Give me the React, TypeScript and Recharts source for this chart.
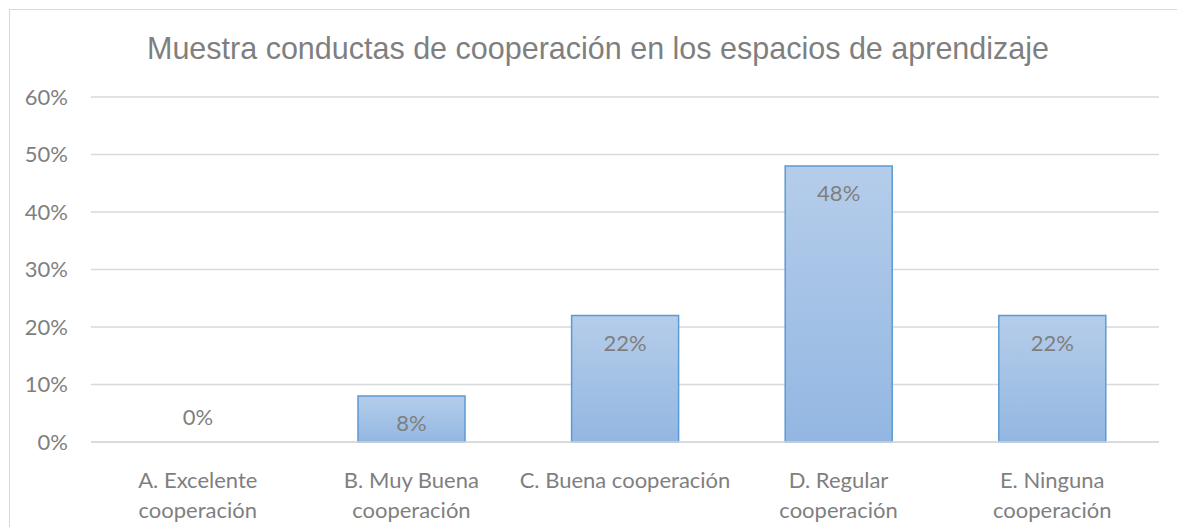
import React from "react";
import { BarChart, Bar, XAxis, YAxis, CartesianGrid } from "recharts";

const title = "Muestra conductas de cooperación en los espacios de aprendizaje";
const categories = [
  "A. Excelente cooperación",
  "B. Muy Buena cooperación",
  "C. Buena cooperación",
  "D. Regular cooperación",
  "E. Ninguna cooperación",
];
const categoryLines = [
  ["A. Excelente", "cooperación"],
  ["B. Muy Buena", "cooperación"],
  ["C. Buena cooperación"],
  ["D. Regular", "cooperación"],
  ["E. Ninguna", "cooperación"],
];
const values = [0, 8, 22, 48, 22];
const yTicks = [0, 10, 20, 30, 40, 50, 60];

const data = categories.map((c, i) => ({ name: c, value: values[i] }));

const TICK_FONT = "Lato, 'Liberation Sans', sans-serif";
const GRAY = "#7f7f7f";

const XTick = (props: any) => {
  const { x, y, index } = props;
  const lines = categoryLines[index] || [props.payload.value];
  return (
    <g>
      {lines.map((l: string, i: number) => (
        <text
          key={i}
          x={x}
          y={y + 38 + i * 30}
          textAnchor="middle"
          fill={GRAY}
          fontSize={22}
          fontFamily={TICK_FONT}
        >
          {l}
        </text>
      ))}
    </g>
  );
};

const BarShape = (props: any) => {
  const { x, y, width, height, value } = props;
  const v = Array.isArray(value) ? value[1] - value[0] : value;
  const cx = x + width / 2;
  const ty = v === 0 ? y - 17 : y + 35;
  return (
    <g>
      {height > 0 && (
        <rect x={x} y={y} width={width} height={height} fill="url(#barGrad)" stroke="#5b9bd5" strokeWidth={1.5} />
      )}
      <text x={cx} y={ty} textAnchor="middle" fill={GRAY} fontSize={22} fontFamily={TICK_FONT}>
        {v + "%"}
      </text>
    </g>
  );
};

export default function App() {
  return (
    <div style={{ position: "absolute", left: 0, top: 0, width: 1177, height: 527, overflow: "hidden", background: "#fff" }}>
      <div
        style={{
          position: "absolute",
          left: 9,
          top: 9,
          width: 2000,
          height: 1000,
          border: "1.5px solid #d9d9d9",
          boxSizing: "border-box",
        }}
      />
      <div style={{ position: "absolute", left: 0, top: 0 }}>
        <BarChart
          width={1177}
          height={527}
          data={data}
          margin={{ top: 97, right: 18, left: 11, bottom: 0 }}
          barCategoryGap="25%"
        >
          <defs>
            <linearGradient id="barGrad" x1="0" y1="0" x2="0" y2="1">
              <stop offset="0%" stopColor="#b5cdea" />
              <stop offset="100%" stopColor="#93b7e2" />
            </linearGradient>
          </defs>
          <text
            x={598}
            y={59}
            textAnchor="middle"
            fill={GRAY}
            fontSize={30.5}
            fontFamily="'Liberation Sans', Arial, sans-serif"
          >
            {title}
          </text>
          <CartesianGrid vertical={false} stroke="#d9d9d9" strokeWidth={1.5} />
          <XAxis
            dataKey="name"
            height={85}
            axisLine={{ stroke: "#d9d9d9", strokeWidth: 1.5 }}
            tickLine={false}
            tick={<XTick />}
            interval={0}
          />
          <YAxis
            width={80}
            domain={[0, 60]}
            ticks={yTicks}
            tickFormatter={(v: number) => v + "%"}
            axisLine={false}
            tickLine={false}
            tickSize={0}
            tickMargin={23}
            tick={{ fill: GRAY, fontSize: 22, fontFamily: TICK_FONT }}
          />
          <Bar dataKey="value" shape={<BarShape />} isAnimationActive={false} />
        </BarChart>
      </div>
    </div>
  );
}
